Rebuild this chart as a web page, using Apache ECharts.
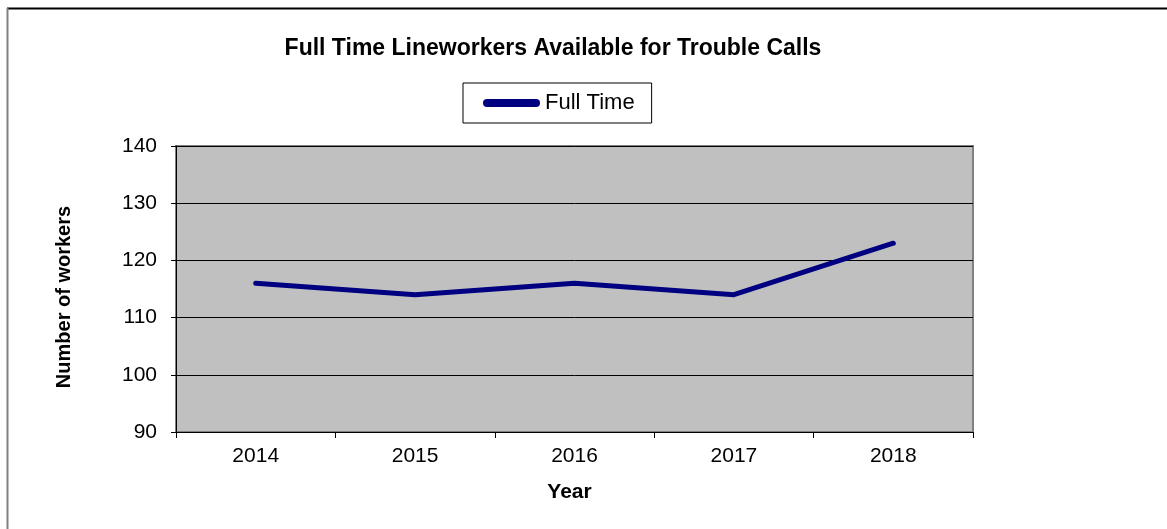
<!DOCTYPE html>
<html><head><meta charset="utf-8">
<script src="https://cdn.jsdelivr.net/npm/echarts@6/dist/echarts.min.js"></script>
<style>html,body{margin:0;padding:0;background:#fff}#c{width:1167px;height:529px}</style>
</head><body><div id="c"></div>
<script>
var years = ['2014','2015','2016','2017','2018'];
var fullTime = [116, 114, 116, 114, 123];
var yTicks = {min: 90, max: 140, interval: 10};

var chart = echarts.init(document.getElementById('c'), null, {renderer: 'canvas'});
var font = 'Liberation Sans, Arial, sans-serif';
chart.setOption({
  animation: false,
  backgroundColor: '#ffffff',
  title: {
    text: 'Full Time Lineworkers Available for Trouble Calls',
    left: 548, top: 32, textAlign: 'center',
    textStyle: {fontFamily: font, fontSize: 23, fontWeight: 'bold', color: '#000'}
  },
  legend: {
    left: 463, top: 83,
    padding: [9, 17, 9, 20],
    borderColor: '#000', borderWidth: 1,
    itemWidth: 57, itemHeight: 8, itemGap: 0,
    textStyle: {fontFamily: font, fontSize: 22, color: '#000'},
    data: [{name: 'Full Time', icon: 'path://M4,0 L53,0 A4,4 0 0 1 53,8 L4,8 A4,4 0 0 1 4,0 Z'}]
  },
  grid: {
    left: 176, top: 146, right: 194, bottom: 97,
    show: true, backgroundColor: '#c0c0c0', borderColor: '#808080', borderWidth: 2
  },
  xAxis: {
    type: 'category', data: years, boundaryGap: true,
    name: 'Year', nameLocation: 'middle', nameGap: 50,
    nameTextStyle: {fontFamily: font, fontSize: 21, fontWeight: 'bold', color: '#000', padding: [0, 10, 0, 0]},
    axisLine: {lineStyle: {color: '#000', width: 1}},
    axisTick: {show: true, length: 6, lineStyle: {color: '#000'}},
    axisLabel: {fontFamily: font, fontSize: 21, color: '#000', margin: 14}
  },
  yAxis: {
    type: 'value', min: yTicks.min, max: yTicks.max, interval: yTicks.interval,
    name: 'Number of workers', nameLocation: 'middle', nameGap: 102, nameRotate: 90,
    nameTextStyle: {fontFamily: font, fontSize: 20, fontWeight: 'bold', color: '#000', padding: [0, 16, 0, 0]},
    axisLine: {show: true, lineStyle: {color: '#000', width: 1}},
    axisTick: {show: true, length: 5, lineStyle: {color: '#000'}},
    axisLabel: {fontFamily: font, fontSize: 21, color: '#000', margin: 19},
    splitLine: {show: true, lineStyle: {color: '#000', width: 1}}
  },
  graphic: [
    {type: 'line', shape: {x1: 7, y1: 8.5, x2: 1167, y2: 8.5}, style: {stroke: '#000', lineWidth: 2}, z: 100},
    {type: 'line', shape: {x1: 7.5, y1: 8, x2: 7.5, y2: 529}, style: {stroke: '#808080', lineWidth: 2}, z: 100}
  ],
  series: [{
    name: 'Full Time', type: 'line', data: fullTime,
    showSymbol: false, symbol: 'none',
    lineStyle: {color: '#000080', width: 5, cap: 'round', join: 'round'},
    itemStyle: {color: '#000080'}
  }]
});
</script></body></html>
